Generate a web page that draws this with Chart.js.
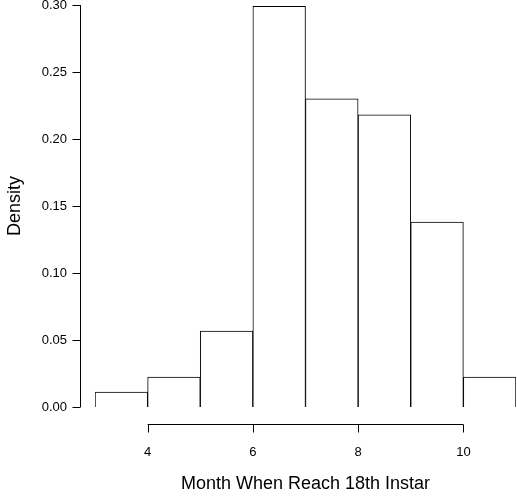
<!DOCTYPE html>
<html>
<head>
<meta charset="utf-8">
<script src="https://cdn.jsdelivr.net/npm/chart.js@4"></script>
<style>
  html, body { margin: 0; padding: 0; background: #fff; }
  #wrap { width: 517px; height: 499px; }
</style>
</head>
<body>
<div id="wrap"><canvas id="hist" width="517" height="499"></canvas></div>
<script>
// Histogram bins (month) and densities
const binStarts = [3, 4, 5, 6, 7, 8, 9, 10];
const densities = [0.0112, 0.0224, 0.0567, 0.299, 0.230, 0.218, 0.138, 0.0224];
const xTicks = [4, 6, 8, 10];
const yTicks = [0, 0.05, 0.10, 0.15, 0.20, 0.25, 0.30];

const FONT = 'Liberation Sans, Arial, Helvetica, sans-serif';

// R-style detached axes
const rAxes = {
  id: 'rAxes',
  afterDraw(chart) {
    const { ctx, scales: { x, y } } = chart;
    ctx.save();
    ctx.strokeStyle = '#000';
    ctx.lineWidth = 1;
    ctx.beginPath();
    const ax = 80.5;
    ctx.moveTo(ax, y.getPixelForValue(0));
    ctx.lineTo(ax, y.getPixelForValue(0.3));
    yTicks.forEach(v => {
      const p = Math.round(y.getPixelForValue(v)) + 0.5;
      ctx.moveTo(ax, p);
      ctx.lineTo(ax - 8, p);
    });
    const ay = 424.5;
    ctx.moveTo(x.getPixelForValue(4), ay);
    ctx.lineTo(x.getPixelForValue(10), ay);
    xTicks.forEach(v => {
      const p = Math.round(x.getPixelForValue(v)) + 0.5;
      ctx.moveTo(p, ay);
      ctx.lineTo(p, ay + 8);
    });
    ctx.stroke();
    ctx.restore();
  }
};

new Chart(document.getElementById('hist'), {
  type: 'bar',
  data: {
    datasets: [{
      data: binStarts.map((b, i) => ({ x: b + 0.5, y: densities[i] })),
      backgroundColor: '#fff',
      borderColor: '#000',
      borderWidth: 1,
      barPercentage: 1,
      categoryPercentage: 1
    }]
  },
  options: {
    responsive: false,
    animation: false,
    layout: { padding: { top: 5, right: 1, left: 0, bottom: 0 } },
    plugins: { legend: { display: false }, tooltip: { enabled: false } },
    scales: {
      x: {
        type: 'linear',
        offset: false,
        min: 3, max: 11,
        grid: { display: false, drawTicks: false, offset: false },
        border: { display: false },
        afterBuildTicks(s) { s.ticks = xTicks.map(v => ({ value: v })); },
        afterFit(s) { s.height = 92; s.paddingLeft = 0; s.paddingRight = 0; },
        ticks: {
          padding: 38,
          color: '#000', font: { family: FONT, size: 13 },
          callback: v => String(v)
        },
        title: {
          display: true, text: 'Month When Reach 18th Instar',
          color: '#000', font: { family: FONT, size: 18 }, padding: { top: 10 }
        }
      },
      y: {
        min: 0, max: 0.3,
        grid: { display: false, drawTicks: false },
        border: { display: false },
        afterBuildTicks(s) { s.ticks = yTicks.map(v => ({ value: v })); },
        afterFit(s) { s.width = 95; s.paddingTop = 0; s.paddingBottom = 0; },
        ticks: {
          padding: 28,
          color: '#000', font: { family: FONT, size: 13 },
          callback: v => v.toFixed(2)
        },
        title: {
          display: true, text: 'Density',
          color: '#000', font: { family: FONT, size: 18 }, padding: { bottom: 0 }
        }
      }
    }
  },
  plugins: [rAxes]
});
</script>
</body>
</html>
